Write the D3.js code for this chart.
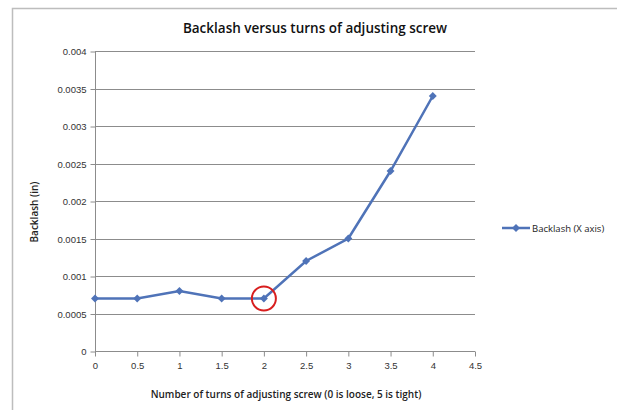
<!DOCTYPE html>
<html>
<head>
<meta charset="utf-8">
<script src="https://d3js.org/d3.v7.min.js"></script>
<style>
  body { margin: 0; background: #fff; }
  svg { font-family: "Open Sans", "Liberation Sans", sans-serif; }
</style>
</head>
<body>
<script>
// data
var turns = [0, 0.5, 1, 1.5, 2, 2.5, 3, 3.5, 4];
var backlash = [0.0007, 0.0007, 0.0008, 0.0007, 0.0007, 0.0012, 0.0015, 0.0024, 0.0034];
var xTicks = [0, 0.5, 1, 1.5, 2, 2.5, 3, 3.5, 4, 4.5];
var yTicks = [0, 0.0005, 0.001, 0.0015, 0.002, 0.0025, 0.003, 0.0035, 0.004];
var seriesName = "Backlash (X axis)";
var circled = 4; // index of the point with the red ring

var W = 617, H = 410;
var margin = {top: 51, left: 95, right: 142, bottom: 59};

var svg = d3.select("body").append("svg")
  .attr("width", W).attr("height", H);

// outer chart frame
svg.append("path")
  .attr("d", "M12.5," + H + "V8.5H" + W)
  .attr("fill", "none").attr("stroke", "#bdbdbd").attr("stroke-width", 1.5);

var x = d3.scaleLinear().domain([0, 4.5]).range([margin.left, W - margin.right]);
var y = d3.scaleLinear().domain([0, 0.004]).range([H - margin.bottom, margin.top]);

svg.append("text")
  .attr("x", 315).attr("y", 33)
  .attr("text-anchor", "middle")
  .attr("font-size", 13.5).attr("font-weight", 600).attr("fill", "#111")
  .text("Backlash versus turns of adjusting screw");

// horizontal gridlines
svg.append("g").selectAll("line")
  .data(yTicks.slice(1))
  .join("line")
  .attr("x1", x(0)).attr("x2", x(4.5))
  .attr("y1", d => Math.round(y(d)) + 0.5).attr("y2", d => Math.round(y(d)) + 0.5)
  .attr("stroke", "#8c8c8c");

var yAxis = svg.append("g")
  .attr("transform", "translate(" + (x(0) + 0.5) + ",0.5)")
  .call(d3.axisLeft(y).tickValues(yTicks).tickSize(5).tickPadding(4)
    .tickFormat(d => d === 0 ? "0" : String(+d.toFixed(4))));

var xAxis = svg.append("g")
  .attr("transform", "translate(0," + (y(0) + 0.5) + ")")
  .call(d3.axisBottom(x).tickValues(xTicks).tickSize(5).tickPadding(6)
    .tickFormat(d => String(d)));

[xAxis, yAxis].forEach(function(g) {
  g.selectAll("path, line").attr("stroke", "#8c8c8c");
  g.selectAll("text").attr("font-size", 9.5).attr("fill", "#333");
});
xAxis.select(".domain").attr("d", "M" + x(0) + ",0H" + x(4.5));
yAxis.select(".domain").attr("d", "M0," + y(0) + "V" + y(0.004));

svg.append("text")
  .attr("x", 286).attr("y", 398)
  .attr("text-anchor", "middle")
  .attr("font-size", 10).attr("font-weight", 600).attr("fill", "#222")
  .text("Number of turns of adjusting  screw (0 is loose, 5 is tight)");

svg.append("text")
  .attr("transform", "translate(38,212) rotate(-90)")
  .attr("text-anchor", "middle")
  .attr("font-size", 10).attr("font-weight", 600).attr("fill", "#222")
  .text("Backlash  (in)");

var blue = "#4f73b8";
var pts = turns.map((t, i) => [t, backlash[i]]);

svg.append("path")
  .datum(pts)
  .attr("fill", "none").attr("stroke", blue).attr("stroke-width", 2.5)
  .attr("d", d3.line().x(d => x(d[0])).y(d => y(d[1])));

var diamond = d3.symbol().type(d3.symbolDiamond2).size(40);
svg.append("g").selectAll("path")
  .data(pts)
  .join("path")
  .attr("transform", d => "translate(" + x(d[0]) + "," + y(d[1]) + ")")
  .attr("d", diamond)
  .attr("fill", blue);

// red ring on the point at 2 turns
svg.append("circle")
  .attr("cx", x(turns[circled])).attr("cy", y(backlash[circled]))
  .attr("r", 12)
  .attr("fill", "none").attr("stroke", "#d81e1e").attr("stroke-width", 2);

// legend
var lg = svg.append("g").attr("transform", "translate(502,228)");
lg.append("line").attr("x1", 0).attr("x2", 28)
  .attr("stroke", blue).attr("stroke-width", 2.5);
lg.append("path").attr("transform", "translate(14,0)").attr("d", diamond).attr("fill", blue);
lg.append("text").attr("x", 30).attr("y", 3.5)
  .attr("font-size", 9.5).attr("fill", "#222")
  .text(seriesName);
</script>
</body>
</html>
